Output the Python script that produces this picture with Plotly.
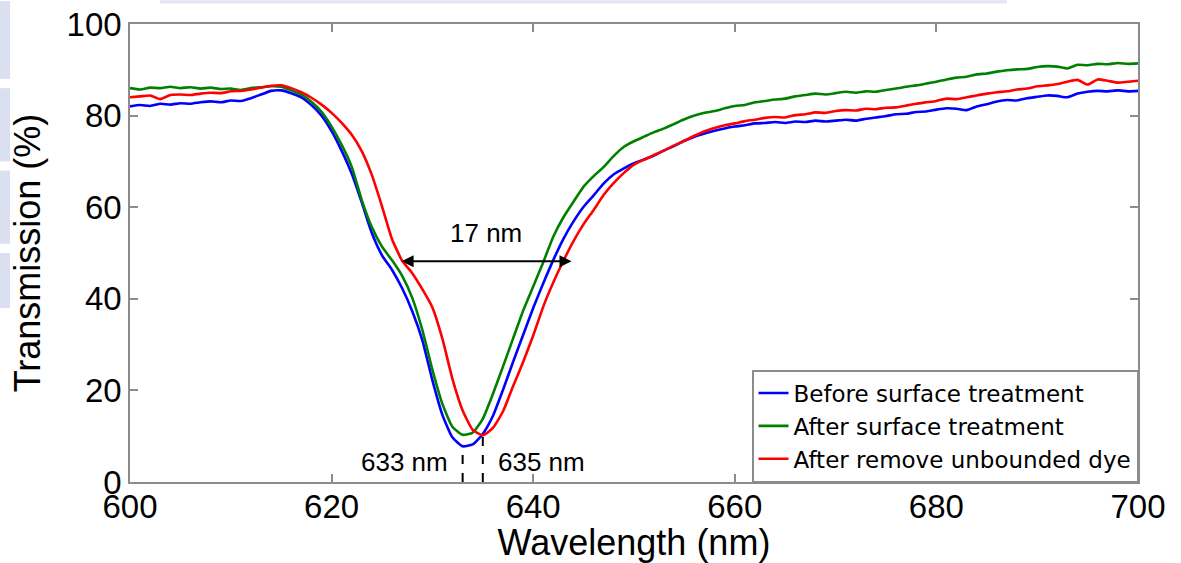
import plotly.graph_objects as go

# Transmission spectra, 1 nm sampling
wavelength = list(range(600, 701))

before_treatment = [
    82.0, 82.3, 82.1, 82.6, 82.4, 82.7, 82.6, 82.9, 83.1, 82.9,
    83.3, 83.2, 83.8, 84.6, 85.4, 85.5, 84.9, 84.0, 82.3, 80.0,
    76.6, 72.3, 67.3, 61.0, 54.3, 49.5, 46.3, 42.3, 37.3, 31.0,
    22.2, 14.6, 9.7, 7.8, 8.2, 10.5, 14.4, 20.1, 26.2, 32.1,
    38.0, 43.4, 48.5, 53.1, 56.9, 60.1, 62.6, 65.2, 67.2, 68.5,
    69.6, 70.4, 71.3, 72.4, 73.4, 74.5, 75.4, 76.1, 76.7, 77.2,
    77.6, 77.9, 78.3, 78.4, 78.6, 78.4, 78.7, 78.6, 78.9, 78.7,
    78.9, 79.1, 78.9, 79.3, 79.6, 79.9, 80.3, 80.4, 80.8, 80.9,
    81.3, 81.6, 81.5, 81.2, 82.0, 82.5, 83.1, 83.4, 83.3, 83.8,
    84.1, 84.4, 84.3, 84.0, 84.8, 85.2, 85.4, 85.3, 85.5, 85.3,
    85.4,
]

after_treatment = [
    86.0, 85.7, 86.1, 86.0, 86.3, 86.0, 86.2, 85.9, 86.1, 85.8,
    85.9, 85.6, 86.0, 86.2, 86.4, 86.3, 85.5, 84.6, 83.0, 80.8,
    77.6, 73.6, 68.8, 61.5, 55.6, 51.4, 48.4, 45.0, 40.2, 33.2,
    24.5, 17.0, 12.0, 10.3, 10.8, 13.8, 19.2, 25.2, 31.3, 37.4,
    42.7, 48.0, 53.6, 57.8, 61.2, 64.5, 66.8, 68.8, 71.2, 73.2,
    74.4, 75.4, 76.4, 77.2, 78.2, 79.2, 80.0, 80.6, 81.0, 81.6,
    82.1, 82.3, 82.9, 83.2, 83.5, 83.7, 84.2, 84.5, 84.8, 84.6,
    84.9, 85.2, 85.0, 85.3, 85.2, 85.6, 85.9, 86.3, 86.6, 87.0,
    87.4, 87.9, 88.3, 88.5, 89.0, 89.2, 89.6, 89.9, 90.1, 90.2,
    90.6, 90.8, 90.7, 90.3, 91.1, 91.0, 91.3, 91.2, 91.5, 91.3,
    91.4,
]

after_dye_removal = [
    84.0, 84.2, 84.4, 83.6, 84.5, 84.6, 84.5, 84.8, 85.0, 84.9,
    85.3, 85.4, 85.7, 86.1, 86.5, 86.6, 86.0, 85.1, 83.9, 82.4,
    80.6, 78.4, 75.8, 72.2, 67.0, 60.2, 53.0, 48.3, 45.6, 42.1,
    38.1, 31.2, 22.4, 15.6, 11.4, 10.2, 11.8, 15.4, 20.9, 26.2,
    32.0, 38.3, 43.6, 48.3, 52.6, 56.3, 59.4, 62.7, 65.3, 67.5,
    69.3, 70.4, 71.4, 72.4, 73.5, 74.5, 75.6, 76.6, 77.3, 77.9,
    78.3, 78.8, 79.1, 79.5, 79.7, 79.6, 80.1, 80.3, 80.7, 80.6,
    81.0, 81.2, 81.1, 81.5, 81.4, 81.7, 81.8, 82.2, 82.6, 82.9,
    83.2, 83.7, 83.6, 84.0, 84.4, 84.8, 85.1, 85.3, 85.7, 85.9,
    86.4, 86.6, 86.9, 87.4, 87.8, 86.8, 87.9, 87.6, 87.2, 87.4,
    87.6,
]

series_names = [
    "Before surface treatment",
    "After surface treatment",
    "After remove unbounded dye",
]
series_colors = ["#0000ff", "#008000", "#ff0000"]

# Resonance minima and width marker
dip_before_nm = 633
dip_after_nm = 635
fwhm_start_nm = 626.8
fwhm_nm = 17
fwhm_level = 48.2

x_ticks = [600, 620, 640, 660, 680, 700]
y_ticks = [0, 20, 40, 60, 80, 100]

FONT = "Liberation Sans, Arial, sans-serif"
LEGEND_FONT = "DejaVu Sans, sans-serif"

fig = go.Figure()
for name, values, color in zip(
    series_names, [before_treatment, after_treatment, after_dye_removal], series_colors
):
    fig.add_trace(
        go.Scatter(
            x=wavelength,
            y=values,
            mode="lines",
            name=name,
            line=dict(color=color, width=2.6, shape="spline", smoothing=0.5),
        )
    )

# Dashed drop lines from each minimum to the axis
for wl, curve in [(dip_before_nm, before_treatment), (dip_after_nm, after_dye_removal)]:
    fig.add_shape(
        type="line",
        x0=wl, x1=wl, y0=0, y1=curve[wavelength.index(wl)],
        xref="x", yref="y",
        line=dict(color="black", width=2, dash="dash"),
    )

# Double-headed width arrow
fig.add_annotation(
    x=fwhm_start_nm + fwhm_nm, y=fwhm_level,
    ax=fwhm_start_nm, ay=fwhm_level,
    xref="x", yref="y", axref="x", ayref="y",
    text="", showarrow=True,
    arrowhead=2, startarrowhead=2, arrowside="end+start",
    arrowsize=1.2, startarrowsize=1.2, arrowwidth=2, arrowcolor="black",
)
fig.add_annotation(
    x=fwhm_start_nm + fwhm_nm / 2, y=54.3, xref="x", yref="y",
    text=f"{fwhm_nm} nm", showarrow=False,
    font=dict(family=FONT, size=26, color="black"),
)
fig.add_annotation(
    x=dip_before_nm - 1.3, y=4.4, xref="x", yref="y",
    text=f"{dip_before_nm} nm", showarrow=False, xanchor="right",
    font=dict(family=FONT, size=26, color="black"),
)
fig.add_annotation(
    x=dip_after_nm + 1.3, y=4.4, xref="x", yref="y",
    text=f"{dip_after_nm} nm", showarrow=False, xanchor="left",
    font=dict(family=FONT, size=26, color="black"),
)

# Faint slide decoration along the left and top edges
for y0, y1 in [(1.05, 0.88), (0.86, 0.70), (0.68, 0.52), (0.50, 0.38)]:
    fig.add_shape(
        type="rect", xref="paper", yref="paper",
        x0=-0.129, x1=-0.119, y0=y0, y1=y1,
        fillcolor="#c3cce8", opacity=0.6, line=dict(width=0), layer="below",
    )
fig.add_shape(
    type="rect", xref="paper", yref="paper",
    x0=0.03, x1=0.87, y0=1.052, y1=1.045,
    fillcolor="#c6cee8", opacity=0.5, line=dict(width=0), layer="below",
)

axis_common = dict(
    showline=True, linecolor="#8c8c8c", linewidth=1.5, mirror="ticks",
    ticks="inside", ticklen=8, tickwidth=1.5, tickcolor="#8c8c8c",
    showgrid=False, zeroline=False, automargin=False,
    tickfont=dict(family=FONT, size=33, color="black"),
)

fig.update_layout(
    width=1181, height=563,
    margin=dict(l=130, r=43, t=24, b=81),
    paper_bgcolor="white", plot_bgcolor="white",
    font=dict(family=FONT, color="black"),
    xaxis=dict(
        range=[600, 700], tickvals=x_ticks, ticklabelstandoff=-5,
        title=dict(text="Wavelength (nm)", font=dict(family=FONT, size=36), standoff=0),
        **axis_common,
    ),
    yaxis=dict(
        range=[0, 100], tickvals=y_ticks,
        title=dict(text="Transmission (%)", font=dict(family=FONT, size=36), standoff=15),
        **axis_common,
    ),
    legend=dict(
        x=1, y=0, xanchor="right", yanchor="bottom",
        bgcolor="white", bordercolor="#8c8c8c", borderwidth=1.5,
        font=dict(family=LEGEND_FONT, size=23, color="black"),
        itemwidth=30, tracegroupgap=0,
    ),
    showlegend=True,
)

fig.write_html("out.html")
